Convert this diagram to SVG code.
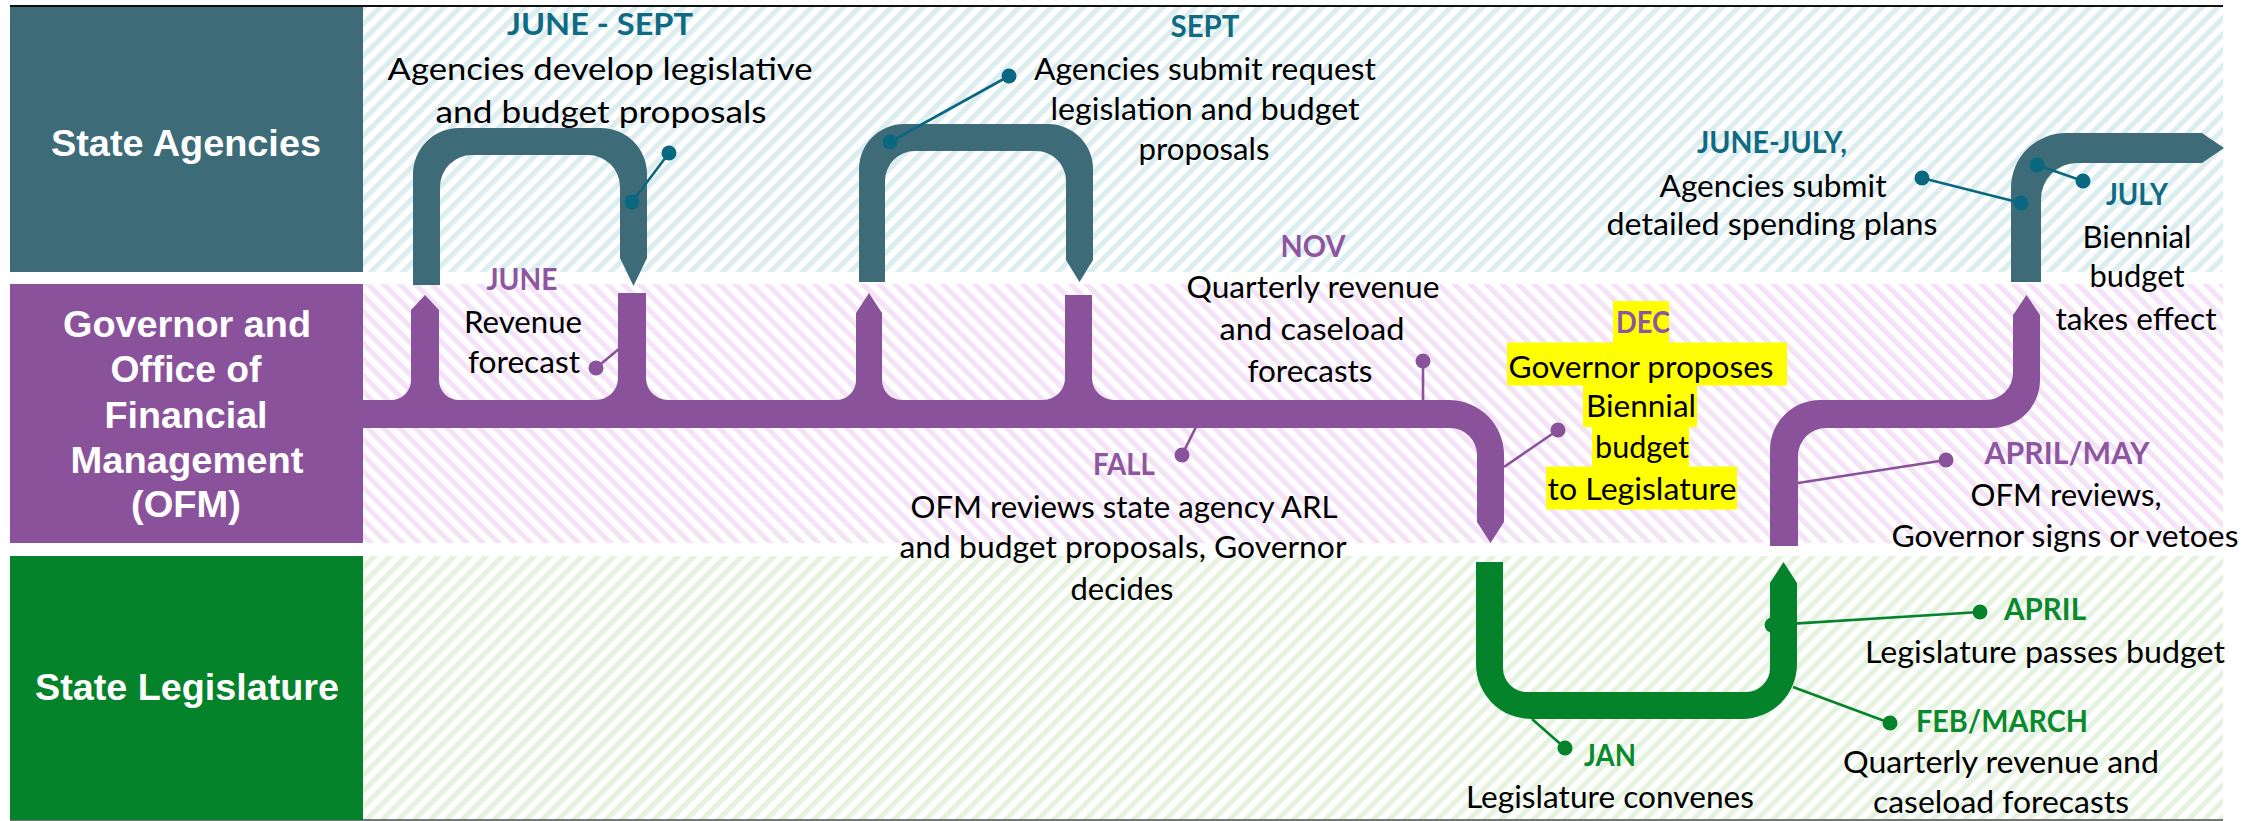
<svg xmlns="http://www.w3.org/2000/svg" width="2264" height="821" viewBox="0 0 2264 821">
<defs>
<pattern id="hTeal" patternUnits="userSpaceOnUse" width="11.3" height="11.3" patternTransform="rotate(45)"><rect width="11.3" height="11.3" fill="#ffffff"/><rect width="5.2" height="11.3" fill="#dcedf0"/></pattern>
<pattern id="hPurple" patternUnits="userSpaceOnUse" width="11.3" height="11.3" patternTransform="rotate(-45)"><rect width="11.3" height="11.3" fill="#ffffff"/><rect width="5.2" height="11.3" fill="#f4e3f6"/></pattern>
<pattern id="hGreen" patternUnits="userSpaceOnUse" width="11.3" height="11.3" patternTransform="rotate(45)"><rect width="11.3" height="11.3" fill="#ffffff"/><rect width="5.2" height="11.3" fill="#e5f2df"/></pattern>
</defs>
<style>
.lane{font-family:"Liberation Sans",Arial,sans-serif;font-weight:bold;font-size:37px;fill:#ffffff;text-anchor:middle}
.body{font-family:Lato,"Open Sans",sans-serif;font-size:31px;fill:#000000;text-anchor:middle}
.mon{font-family:Lato,"Open Sans",sans-serif;font-weight:bold;font-size:30px;text-anchor:middle}
.tT{fill:#0f6b83}.tP{fill:#8e55a1}.tG{fill:#0a8a2c}
.fT{fill:#3d6b78}.fP{fill:#8b529c}.fG{fill:#04832a}
.lT{stroke:#0a6780;stroke-width:2.6;fill:none}.dT{fill:#0a6780}
.lP{stroke:#8b529c;stroke-width:2.6;fill:none}.dP{fill:#8b529c}
.lG{stroke:#04832a;stroke-width:2.6;fill:none}.dG{fill:#04832a}
.hl{fill:#ffff00}
</style>
<rect width="2264" height="821" fill="#ffffff"/>
<g id="lanes">
<rect x="363" y="7" width="1860" height="265" fill="url(#hTeal)"/>
<rect x="363" y="284" width="1860" height="259" fill="url(#hPurple)"/>
<rect x="363" y="556" width="1860" height="264" fill="url(#hGreen)"/>
<line x1="10" y1="6" x2="2223" y2="6" stroke="#111111" stroke-width="2"/>
<line x1="10" y1="820" x2="2223" y2="820" stroke="#777777" stroke-width="2"/>
</g>
<g id="lane-agencies">
<rect x="10" y="7" width="353" height="265" class="fT"/>
<text class="lane" x="186" y="156" textLength="270" lengthAdjust="spacingAndGlyphs">State Agencies</text>
</g>
<g id="lane-governor">
<rect x="10" y="284" width="353" height="259" class="fP"/>
<text class="lane" x="187" y="337" textLength="248" lengthAdjust="spacingAndGlyphs">Governor and</text>
<text class="lane" x="186" y="382" textLength="151" lengthAdjust="spacingAndGlyphs">Office of</text>
<text class="lane" x="186" y="428" textLength="163" lengthAdjust="spacingAndGlyphs">Financial</text>
<text class="lane" x="187" y="473" textLength="233" lengthAdjust="spacingAndGlyphs">Management</text>
<text class="lane" x="186" y="517" textLength="110" lengthAdjust="spacingAndGlyphs">(OFM)</text>
</g>
<g id="lane-legislature">
<rect x="10" y="556" width="353" height="264" class="fG"/>
<text class="lane" x="187" y="700" textLength="304" lengthAdjust="spacingAndGlyphs">State Legislature</text>
</g>
<g id="connectors">
<g id="pipe-ofm" class="fP">
<rect x="363" y="400" width="1087" height="28"/>
<path d="M411,400 L411,310 L425,295 L439,310 L439,400 Z"/>
<path d="M391,400 A20,20 0 0 0 411,380 L411,400 Z"/>
<path d="M439,380 A20,20 0 0 0 459,400 L439,400 Z"/>
<rect x="618" y="293" width="28" height="110"/>
<path d="M596,400 A22,22 0 0 0 618,378 L618,400 Z"/>
<path d="M646,378 A22,22 0 0 0 668,400 L646,400 Z"/>
<path d="M856,400 L856,313 L869,293 L882,313 L882,400 Z"/>
<path d="M836,400 A20,20 0 0 0 856,380 L856,400 Z"/>
<path d="M882,380 A20,20 0 0 0 902,400 L882,400 Z"/>
<rect x="1065" y="295" width="27" height="108"/>
<path d="M1043,400 A22,22 0 0 0 1065,378 L1065,400 Z"/>
<path d="M1092,378 A22,22 0 0 0 1114,400 L1092,400 Z"/>
<path d="M1449,400 A55,55 0 0 1 1504,455 L1504,522 L1490.5,543 L1477,522 L1477,455 A27,27 0 0 0 1450,428 L1448,428 Z"/>
</g>
<path id="pipe-ofm-2" class="fP" d="M1770,546 L1770,450 A50,50 0 0 1 1820,400 L1986,400 A27,27 0 0 0 2013,373 L2013,315 L2026.5,295 L2040,315 L2040,380 A48,48 0 0 1 1992,428 L1826,428 A28,28 0 0 0 1798,456 L1798,546 Z"/>
<path id="pipe-agencies-1" class="fT" d="M413,285 L413,174 A46,46 0 0 1 459,128 L601,128 A46,46 0 0 1 647,174 L647,258 L633.5,286 L620,258 L620,187 A32,32 0 0 0 588,155 L472,155 A32,32 0 0 0 440,187 L440,285 Z"/>
<path id="pipe-agencies-2" class="fT" d="M859,282 L859,169 A45,45 0 0 1 904,124 L1048,124 A45,45 0 0 1 1093,169 L1093,260 L1079.5,282 L1066,260 L1066,181 A30,30 0 0 0 1036,151 L915,151 A30,30 0 0 0 885,181 L885,282 Z"/>
<path id="pipe-agencies-3" class="fT" d="M2011,282 L2011,188 A55,55 0 0 1 2066,133 L2202,133 L2224,148 L2202,163 L2077,163 A36,36 0 0 0 2041,199 L2041,282 Z"/>
<path id="pipe-legislature" class="fG" d="M1476,562 L1503,562 L1503,668 A24,24 0 0 0 1527,692 L1746,692 A24,24 0 0 0 1770,668 L1770,583 L1783.5,562 L1797,583 L1797,664 A55,55 0 0 1 1742,719 L1531,719 A55,55 0 0 1 1476,664 Z"/>
</g>
<g id="ev-june-sept">
<line class="lT" x1="669" y1="153" x2="632" y2="202"/>
<circle class="dT" cx="669" cy="153" r="7.5"/><circle class="dT" cx="632" cy="202" r="7.5"/>
<text class="mon tT" x="600" y="35" textLength="186" lengthAdjust="spacingAndGlyphs">JUNE - SEPT</text>
<text class="body" x="600" y="80" textLength="425" lengthAdjust="spacingAndGlyphs">Agencies develop legislative</text>
<text class="body" x="601" y="123" textLength="331" lengthAdjust="spacingAndGlyphs">and budget proposals</text>
</g>
<g id="ev-sept">
<line class="lT" x1="1009" y1="76" x2="890" y2="142"/>
<circle class="dT" cx="1009" cy="76" r="7.5"/><circle class="dT" cx="890" cy="142" r="7.5"/>
<text class="mon tT" x="1205" y="37" textLength="69" lengthAdjust="spacingAndGlyphs">SEPT</text>
<text class="body" x="1205" y="80" textLength="342" lengthAdjust="spacingAndGlyphs">Agencies submit request</text>
<text class="body" x="1205" y="120" textLength="309" lengthAdjust="spacingAndGlyphs">legislation and budget</text>
<text class="body" x="1204" y="160" textLength="131" lengthAdjust="spacingAndGlyphs">proposals</text>
</g>
<g id="ev-june">
<line class="lP" x1="596" y1="368" x2="620" y2="348"/>
<circle class="dP" cx="596" cy="368" r="7.5"/>
<text class="mon tP" x="522" y="290" textLength="71" lengthAdjust="spacingAndGlyphs">JUNE</text>
<text class="body" x="523" y="333" textLength="118" lengthAdjust="spacingAndGlyphs">Revenue</text>
<text class="body" x="524" y="373" textLength="112" lengthAdjust="spacingAndGlyphs">forecast</text>
</g>
<g id="ev-nov">
<line class="lP" x1="1423" y1="361" x2="1423" y2="401"/>
<circle class="dP" cx="1423" cy="361" r="7.5"/>
<text class="mon tP" x="1313" y="257" textLength="65" lengthAdjust="spacingAndGlyphs">NOV</text>
<text class="body" x="1313" y="298" textLength="253" lengthAdjust="spacingAndGlyphs">Quarterly revenue</text>
<text class="body" x="1312" y="340" textLength="185" lengthAdjust="spacingAndGlyphs">and caseload</text>
<text class="body" x="1310" y="382" textLength="125" lengthAdjust="spacingAndGlyphs">forecasts</text>
</g>
<g id="ev-fall">
<line class="lP" x1="1182" y1="455" x2="1196" y2="427"/>
<circle class="dP" cx="1182" cy="455" r="7.5"/>
<text class="mon tP" x="1124" y="475" textLength="62" lengthAdjust="spacingAndGlyphs">FALL</text>
<text class="body" x="1124" y="518" textLength="427" lengthAdjust="spacingAndGlyphs">OFM reviews state agency ARL</text>
<text class="body" x="1123" y="558" textLength="447" lengthAdjust="spacingAndGlyphs">and budget proposals, Governor</text>
<text class="body" x="1122" y="600" textLength="103" lengthAdjust="spacingAndGlyphs">decides</text>
</g>
<g id="ev-dec">
<line class="lP" x1="1558" y1="430" x2="1504" y2="467"/>
<circle class="dP" cx="1558" cy="430" r="7.5"/>
<rect class="hl" x="1613" y="301" width="56" height="42"/>
<rect class="hl" x="1507" y="342.5" width="280" height="43"/>
<rect class="hl" x="1583" y="385" width="114" height="42"/>
<rect class="hl" x="1592" y="426.5" width="97" height="40.5"/>
<rect class="hl" x="1546" y="466.5" width="191" height="43"/>
<text class="mon tP" x="1643" y="333" textLength="54" lengthAdjust="spacingAndGlyphs">DEC</text>
<text class="body" x="1641" y="378" textLength="265" lengthAdjust="spacingAndGlyphs">Governor  proposes</text>
<text class="body" x="1641" y="417" textLength="110" lengthAdjust="spacingAndGlyphs">Biennial</text>
<text class="body" x="1642" y="458" textLength="94" lengthAdjust="spacingAndGlyphs">budget</text>
<text class="body" x="1642" y="500" textLength="189" lengthAdjust="spacingAndGlyphs">to Legislature</text>
</g>
<g id="ev-june-july">
<line class="lT" x1="1922" y1="178" x2="2021" y2="203"/>
<circle class="dT" cx="1922" cy="178" r="7.5"/><circle class="dT" cx="2021" cy="203" r="7.5"/>
<text class="mon tT" x="1772" y="153" textLength="150" lengthAdjust="spacingAndGlyphs">JUNE-JULY,</text>
<text class="body" x="1773" y="197" textLength="227" lengthAdjust="spacingAndGlyphs">Agencies submit</text>
<text class="body" x="1772" y="235" textLength="331" lengthAdjust="spacingAndGlyphs">detailed spending plans</text>
</g>
<g id="ev-july">
<line class="lT" x1="2037" y1="165" x2="2083" y2="181"/>
<circle class="dT" cx="2037" cy="165" r="7.5"/><circle class="dT" cx="2083" cy="181" r="7.5"/>
<text class="mon tT" x="2137" y="205" textLength="62" lengthAdjust="spacingAndGlyphs">JULY</text>
<text class="body" x="2137" y="248" textLength="109" lengthAdjust="spacingAndGlyphs">Biennial</text>
<text class="body" x="2137" y="287" textLength="95" lengthAdjust="spacingAndGlyphs">budget</text>
<text class="body" x="2136" y="330" textLength="161" lengthAdjust="spacingAndGlyphs">takes effect</text>
</g>
<g id="ev-april-may">
<line class="lP" x1="1946" y1="460" x2="1798" y2="483"/>
<circle class="dP" cx="1946" cy="460" r="7.5"/>
<text class="mon tP" x="2067" y="464" textLength="165" lengthAdjust="spacingAndGlyphs">APRIL/MAY</text>
<text class="body" x="2066" y="506" textLength="191" lengthAdjust="spacingAndGlyphs">OFM reviews,</text>
<text class="body" x="2065" y="547" textLength="347" lengthAdjust="spacingAndGlyphs">Governor  signs or vetoes</text>
</g>
<g id="ev-april">
<line class="lG" x1="1772" y1="625" x2="1980" y2="612"/>
<circle class="dG" cx="1772" cy="625" r="7.5"/><circle class="dG" cx="1980" cy="612" r="7.5"/>
<text class="mon tG" x="2045" y="620" textLength="82" lengthAdjust="spacingAndGlyphs">APRIL</text>
<text class="body" x="2045" y="663" textLength="360" lengthAdjust="spacingAndGlyphs">Legislature passes budget</text>
</g>
<g id="ev-feb-march">
<line class="lG" x1="1793" y1="687" x2="1890" y2="723"/>
<circle class="dG" cx="1890" cy="723" r="7.5"/>
<text class="mon tG" x="2002" y="732" textLength="172" lengthAdjust="spacingAndGlyphs">FEB/MARCH</text>
<text class="body" x="2001" y="773" textLength="316" lengthAdjust="spacingAndGlyphs">Quarterly  revenue  and</text>
<text class="body" x="2001" y="813" textLength="256" lengthAdjust="spacingAndGlyphs">caseload forecasts</text>
</g>
<g id="ev-jan">
<line class="lG" x1="1532" y1="719" x2="1565" y2="748"/>
<circle class="dG" cx="1565" cy="748" r="7.5"/>
<text class="mon tG" x="1610" y="766" textLength="52" lengthAdjust="spacingAndGlyphs">JAN</text>
<text class="body" x="1610" y="808" textLength="288" lengthAdjust="spacingAndGlyphs">Legislature convenes</text>
</g>
</svg>
